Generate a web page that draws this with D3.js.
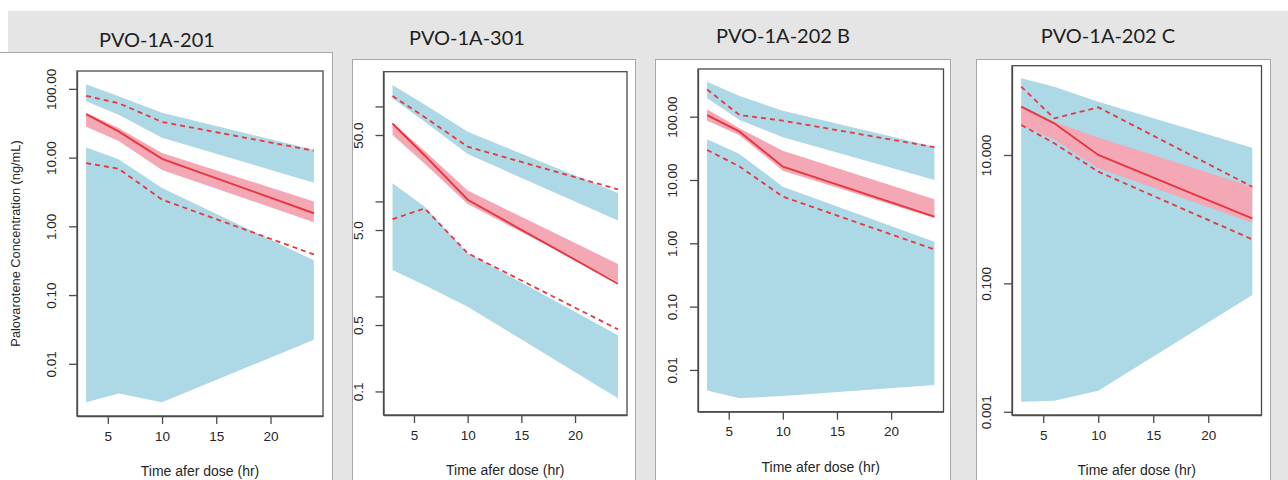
<!DOCTYPE html>
<html lang="en">
<head>
<title>Palovarotene VPC</title>
<meta charset="utf-8">
<script src="https://d3js.org/d3.v7.min.js"></script>
<style>
	body { margin: 0; background: #fff; }
	svg { display: block; }
</style>
</head>
<body>
<div id="viz"></div>

<script type="text/javascript">
	// shared values
	var times = [3, 6, 10, 24],
		xTicks = [5, 10, 15, 20],
		xLim = [2.16, 24.84],
		panelTitles = ['PVO-1A-201', 'PVO-1A-301', 'PVO-1A-202 B', 'PVO-1A-202 C'];

	// PVO-1A-201 (ng/mL)
	var p201_hiTop = [117, 78, 45, 13],
		p201_hiBot = [66, 42, 19.5, 4.3],
		p201_hiDash = [79, 62, 33, 12.6],
		p201_medTop = [45, 27, 11.7, 2.3],
		p201_med = [43, 24, 9.6, 1.55],
		p201_medBot = [28, 17.4, 6.6, 1.15],
		p201_loTop = [14, 9.5, 3.6, 0.32],
		p201_loBot = [0.00275, 0.0037, 0.00275, 0.0224],
		p201_loDash = [8.3, 6.9, 2.45, 0.39],
		p201_yLim = [0.00174, 182],
		p201_yTicks = [0.01, 0.1, 1, 10, 100],
		p201_yLabels = ['0.01', '0.10', '1.00', '10.00', '100.00'];

	// PVO-1A-301
	var p301_hiTop = [168, 105, 54, 12.3],
		p301_hiBot = [122, 69, 31.5, 6.3],
		p301_hiDash = [129, 77, 37.7, 13.4],
		p301_medTop = [67, 34, 13, 2.2],
		p301_med = [66, 30.5, 10.4, 1.36],
		p301_medBot = [50, 24.9, 9.4, 1.42],
		p301_loTop = [15.5, 8.8, 2.85, 0.39],
		p301_loBot = [1.9, 1.31, 0.78, 0.085],
		p301_loDash = [6.5, 8.45, 2.85, 0.45],
		p301_yLim = [0.0565, 232],
		p301_yTicks = [0.1, 0.5, 1, 5, 10, 50, 100],
		p301_yLabels = ['0.1', '0.5', '', '5.0', '', '50.0', ''];

	// PVO-1A-202 B
	var p202b_hiTop = [357, 212, 124, 33.6],
		p202b_hiBot = [195, 88.5, 47.2, 10],
		p202b_hiDash = [269, 106, 86.5, 33],
		p202b_medTop = [131, 65.5, 29, 4.95],
		p202b_med = [106, 58, 16.2, 2.64],
		p202b_medBot = [86.5, 51, 14, 2.5],
		p202b_loTop = [43.9, 25.8, 7.85, 1.06],
		p202b_loBot = [0.00472, 0.00357, 0.00388, 0.0058],
		p202b_loDash = [29.8, 16.3, 5.46, 0.8],
		p202b_yLim = [0.00219, 566],
		p202b_yTicks = [0.01, 0.1, 1, 10, 100],
		p202b_yLabels = ['0.01', '0.10', '1.00', '10.00', '100.00'];

	// PVO-1A-202 C (outer intervals overlap, so the two blue bands meet)
	var p202c_hiTop = [157, 116, 67.6, 13],
		p202c_hiBot = [56.6, 31.2, 10, 1.03],
		p202c_hiDash = [116, 37.2, 55.3, 3.2],
		p202c_medTop = [55.3, 33, 18.8, 3.2],
		p202c_med = [56.6, 31.2, 10, 1.03],
		p202c_medBot = [29.4, 17.5, 6.2, 0.88],
		p202c_loTop = [56.6, 31.2, 10, 1.03],
		p202c_loBot = [0.00143, 0.00148, 0.00212, 0.0658],
		p202c_loDash = [29.4, 15.2, 5.5, 0.485],
		p202c_yLim = [0.00089, 246],
		p202c_yTicks = [0.001, 0.1, 10],
		p202c_yLabels = ['0.001', '0.100', '10.000'];

	var svg = d3.select('#viz').append('svg')
		.attr('width', 1288)
		.attr('height', 480);

	// grey slide background
	svg.append('rect')
		.attr('x', 8).attr('y', 11)
		.attr('width', 1280).attr('height', 469)
		.style('fill', '#e5e5e5');

	var panels = [
		{frame: [-2, 52, 332, 440], box: [77, 71, 323, 416], title: [157, 47], ylab: true,
		 d: [p201_hiTop, p201_hiBot, p201_hiDash, p201_medTop, p201_med, p201_medBot, p201_loTop, p201_loBot, p201_loDash],
		 yLim: p201_yLim, yTicks: p201_yTicks, yLabels: p201_yLabels},
		{frame: [352, 59, 635, 440], box: [383.5, 71.7, 627, 415], title: [467, 45], ylab: false,
		 d: [p301_hiTop, p301_hiBot, p301_hiDash, p301_medTop, p301_med, p301_medBot, p301_loTop, p301_loBot, p301_loDash],
		 yLim: p301_yLim, yTicks: p301_yTicks, yLabels: p301_yLabels},
		{frame: [655, 59, 950, 475], box: [698, 69, 943.5, 411.7], title: [783, 43], ylab: false,
		 d: [p202b_hiTop, p202b_hiBot, p202b_hiDash, p202b_medTop, p202b_med, p202b_medBot, p202b_loTop, p202b_loBot, p202b_loDash],
		 yLim: p202b_yLim, yTicks: p202b_yTicks, yLabels: p202b_yLabels},
		{frame: [976, 59, 1270, 440], box: [1012, 65.7, 1261.5, 415], title: [1108, 43], ylab: false,
		 d: [p202c_hiTop, p202c_hiBot, p202c_hiDash, p202c_medTop, p202c_med, p202c_medBot, p202c_loTop, p202c_loBot, p202c_loDash],
		 yLim: p202c_yLim, yTicks: p202c_yTicks, yLabels: p202c_yLabels}
	];

	var axisFont = '"Liberation Sans", Arial, sans-serif';

	function draw_panel(p, title){
		var g = svg.append('g');

		// white panel with thin border
		g.append('rect')
			.attr('x', p.frame[0] + 0.5).attr('y', p.frame[1] + 0.5)
			.attr('width', p.frame[2] - p.frame[0])
			.attr('height', p.frame[3])
			.style('fill', '#fff')
			.style('stroke', '#a8a8a8')
			.style('stroke-width', 1);

		g.append('text')
			.attr('x', p.title[0]).attr('y', p.title[1])
			.attr('text-anchor', 'middle')
			.style('font-family', 'Lato, "Open Sans", sans-serif')
			.style('font-size', '20px')
			.style('fill', '#1e1e1e')
			.text(title);

		var x = d3.scaleLinear().domain(xLim).range([p.box[0], p.box[2]]);
		var y = d3.scaleLog().domain(p.yLim).range([p.box[3], p.box[1]]);

		var rows = times.map(function(t, i){
			return {t: t, hiTop: p.d[0][i], hiBot: p.d[1][i], hiDash: p.d[2][i],
					medTop: p.d[3][i], med: p.d[4][i], medBot: p.d[5][i],
					loTop: p.d[6][i], loBot: p.d[7][i], loDash: p.d[8][i]};
		});

		function band(k0, k1){
			return d3.area()
				.x(function(d){ return x(d.t); })
				.y0(function(d){ return y(d[k0]); })
				.y1(function(d){ return y(d[k1]); });
		}
		function line(k){
			return d3.line()
				.x(function(d){ return x(d.t); })
				.y(function(d){ return y(d[k]); });
		}

		g.append('path').datum(rows).attr('d', band('hiBot', 'hiTop')).style('fill', '#add8e6');
		g.append('path').datum(rows).attr('d', band('loBot', 'loTop')).style('fill', '#add8e6');
		g.append('path').datum(rows).attr('d', band('medBot', 'medTop')).style('fill', '#f4a8b6');

		g.append('path').datum(rows).attr('d', line('med'))
			.style('fill', 'none').style('stroke', '#e8373d').style('stroke-width', 2);
		['hiDash', 'loDash'].forEach(function(k){
			g.append('path').datum(rows).attr('d', line(k))
				.style('fill', 'none').style('stroke', '#e8373d')
				.style('stroke-width', 1.8).style('stroke-dasharray', '5,4');
		});

		// plot box
		g.append('rect')
			.attr('x', p.box[0]).attr('y', p.box[1])
			.attr('width', p.box[2] - p.box[0]).attr('height', p.box[3] - p.box[1])
			.style('fill', 'none').style('stroke', '#4a4a4a').style('stroke-width', 1.3);

		// axes
		var xAxis = d3.axisBottom(x).tickValues(xTicks).tickSize(8).tickPadding(7).tickSizeOuter(0);
		var gx = g.append('g').attr('transform', 'translate(0,' + p.box[3] + ')').call(xAxis);
		var yAxis = d3.axisLeft(y).tickValues(p.yTicks).tickSize(8).tickSizeOuter(0)
			.tickFormat(function(d, i){ return p.yLabels[i]; });
		var gy = g.append('g').attr('transform', 'translate(' + p.box[0] + ',0)').call(yAxis);

		[gx, gy].forEach(function(a){
			a.select('.domain').style('stroke', '#4a4a4a').style('stroke-width', 1.3);
			a.selectAll('.tick line').style('stroke', '#4a4a4a').style('stroke-width', 1.3);
			a.selectAll('text')
				.style('font-family', axisFont)
				.style('font-size', '13.5px')
				.style('fill', '#262626');
		});
		gy.selectAll('.tick text')
			.attr('transform', 'rotate(-90)')
			.attr('x', 0).attr('y', -21)
			.attr('dy', 0)
			.attr('text-anchor', 'middle');

		g.append('text')
			.attr('x', (p.box[0] + p.box[2]) / 2)
			.attr('y', p.box[3] + 60)
			.attr('text-anchor', 'middle')
			.style('font-family', axisFont)
			.style('font-size', '14px')
			.style('fill', '#262626')
			.text('Time afer dose (hr)');

		if (p.ylab){
			g.append('text')
				.attr('transform', 'translate(' + 19.5 + ',' + ((p.box[1] + p.box[3]) / 2) + ') rotate(-90)')
				.attr('text-anchor', 'middle')
				.style('font-family', axisFont)
				.style('font-size', '12.8px')
				.style('fill', '#262626')
				.text('Palovarotene Concentration (ng/mL)');
		}
	}

	for (var i=0;i<panels.length;i++){
		draw_panel(panels[i], panelTitles[i]);
	}
</script>
</body>
</html>
